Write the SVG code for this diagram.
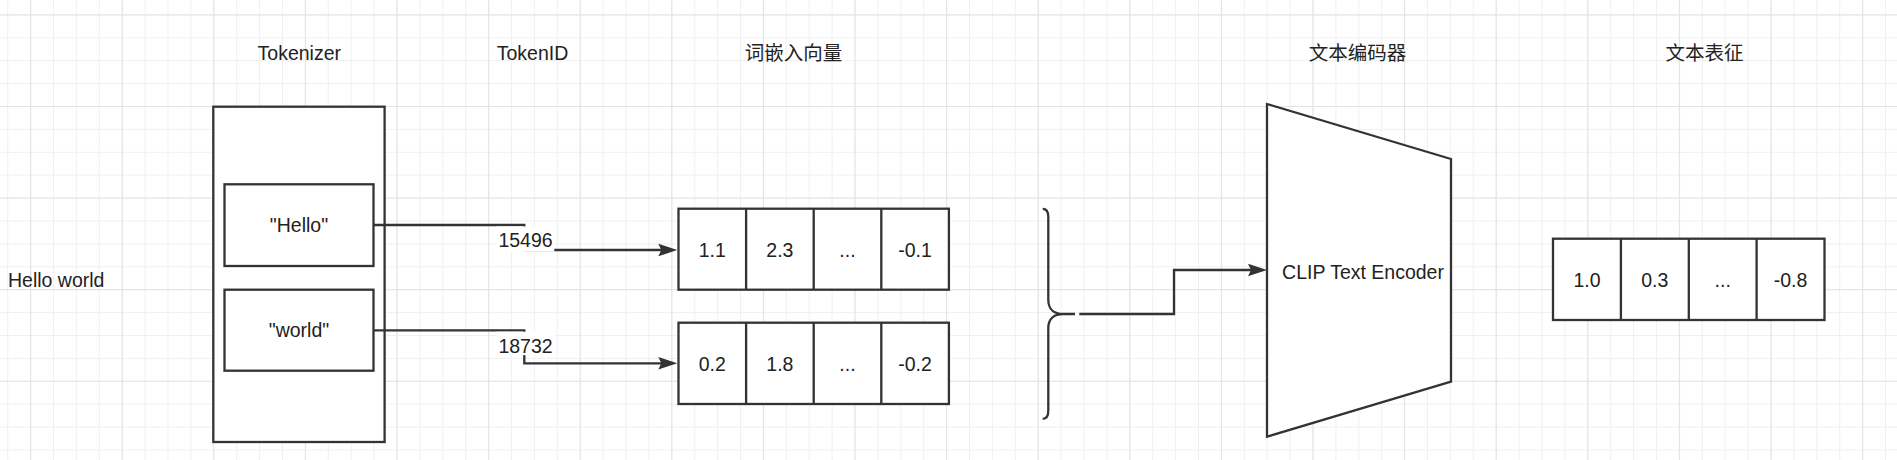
<svg xmlns="http://www.w3.org/2000/svg" width="1897" height="460" viewBox="0 0 1897 460">
<style>
.t{font-family:"Liberation Sans","Noto Sans CJK SC",sans-serif;font-size:19.5px;fill:#222;text-anchor:middle}
.l{text-anchor:start}
.s{fill:#fff;stroke:#333;stroke-width:2.3}
.e{fill:none;stroke:#333;stroke-width:2.3}
</style>
<defs>
<pattern id="minor" width="22.9" height="22.9" x="7.2" y="14.4" patternUnits="userSpaceOnUse">
<path d="M0.5 0V22.9M0 0.5H22.9" stroke="#f0f0f0" stroke-width="1" fill="none"/>
</pattern>
<pattern id="major" width="91.6" height="91.6" x="30.1" y="14.4" patternUnits="userSpaceOnUse">
<path d="M0.5 0V91.6M0 0.5H91.6" stroke="#e3e3e3" stroke-width="1.2" fill="none"/>
</pattern>
<marker id="arr" markerUnits="userSpaceOnUse" markerWidth="20" markerHeight="14" refX="9" refY="6.5" orient="auto" viewBox="0 0 20 13">
<path d="M0 0.2L19 6.5L0 12.8L3 6.5Z" fill="#333"/>
</marker>
</defs>
<rect width="1897" height="460" fill="#fff"/>
<rect width="1897" height="460" fill="url(#minor)"/>
<rect width="1897" height="460" fill="url(#major)"/>

<g id="labels">
<text class="t" x="299.3" y="60">Tokenizer</text>
<text class="t" x="532.5" y="60">TokenID</text>
<text class="t" x="793.5" y="60">词嵌入向量</text>
<text class="t" x="1357.5" y="60">文本编码器</text>
<text class="t" x="1704.5" y="60">文本表征</text>
</g>

<g id="input">
<text class="t l" x="8" y="287">Hello world</text>
</g>

<g id="tokenizer">
<rect class="s" x="213.3" y="106.7" width="171.3" height="335.3"/>
</g>
<g id="tok-hello">
<rect class="s" x="224.5" y="184.3" width="149" height="81.7"/>
<text class="t" x="299" y="232">"Hello"</text>
</g>
<g id="tok-world">
<rect class="s" x="224.5" y="289.7" width="149" height="81"/>
<text class="t" x="299" y="337">"world"</text>
</g>

<g id="connectors">
<path class="e" d="M373.5 225H524.3V250H667.3" marker-end="url(#arr)"/>
<path class="e" d="M373.5 330.3H524.3V363.3H667.3" marker-end="url(#arr)"/>
<path class="e" d="M1079.3 314H1174V270H1257" marker-end="url(#arr)"/>
<rect x="496.7" y="226.4" width="57.6" height="25.2" fill="#fff"/>
<text class="t" x="525.5" y="246.7">15496</text>
<rect x="496.7" y="331.7" width="57.6" height="23.4" fill="#fff"/>
<text class="t" x="525.5" y="353.3">18732</text>
</g>

<g id="emb-hello">
<rect class="s" x="678.5" y="208.7" width="270.4" height="81"/>
<path class="e" d="M746.1 208.7V289.7M813.7 208.7V289.7M881.3 208.7V289.7"/>
<text class="t" x="712.3" y="256.5">1.1</text>
<text class="t" x="779.9" y="256.5">2.3</text>
<text class="t" x="847.5" y="256.5">...</text>
<text class="t" x="915.1" y="256.5">-0.1</text>
</g>

<g id="emb-world">
<rect class="s" x="678.5" y="322.7" width="270.4" height="81.3"/>
<path class="e" d="M746.1 322.7V404M813.7 322.7V404M881.3 322.7V404"/>
<text class="t" x="712.3" y="370.5">0.2</text>
<text class="t" x="779.9" y="370.5">1.8</text>
<text class="t" x="847.5" y="370.5">...</text>
<text class="t" x="915.1" y="370.5">-0.2</text>
</g>

<g id="brace">
<path class="e" d="M1042.7 208.8C1046.5 208.8 1048.3 211.5 1048.3 217V300C1048.3 309 1054 314 1063.3 314H1075M1063.3 314C1054 314 1048.3 319 1048.3 328V410.5C1048.3 416 1046.5 418.8 1042.7 418.8"/>
</g>

<g id="encoder">
<path class="s" d="M1267 104L1451 159V381.7L1267 436.7Z"/>
<text class="t" x="1363" y="279">CLIP Text Encoder</text>
</g>

<g id="output">
<rect class="s" x="1553" y="238.7" width="271.5" height="81.3"/>
<path class="e" d="M1620.9 238.7V320M1688.8 238.7V320M1756.6 238.7V320"/>
<text class="t" x="1587" y="287">1.0</text>
<text class="t" x="1654.8" y="287">0.3</text>
<text class="t" x="1722.7" y="287">...</text>
<text class="t" x="1790.5" y="287">-0.8</text>
</g>
</svg>
